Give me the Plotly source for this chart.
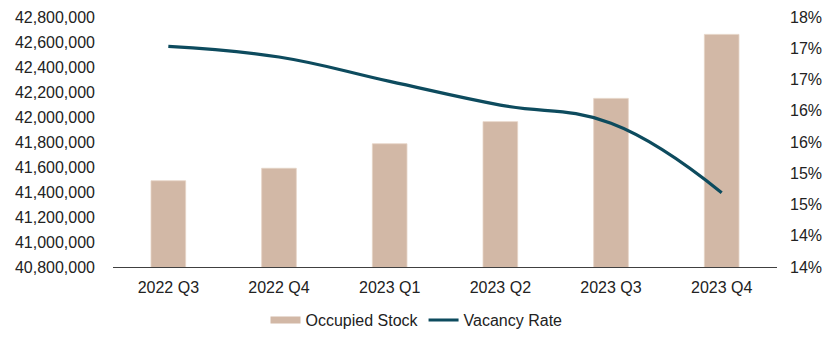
import plotly.graph_objects as go

# Quarterly office market figures
quarters = ["2022 Q3", "2022 Q4", "2023 Q1", "2023 Q2", "2023 Q3", "2023 Q4"]
occupied_stock = [41490000, 41590000, 41786000, 41963000, 42149000, 42661000]
vacancy_rate = [0.1753, 0.1736, 0.1697, 0.1659, 0.1630, 0.1519]

# Right-axis ticks every 0.5 pt, shown as whole percentages
rate_tickvals = [0.14, 0.145, 0.15, 0.155, 0.16, 0.165, 0.17, 0.175, 0.18]
rate_ticktext = ["14%", "14%", "15%", "15%", "16%", "16%", "17%", "17%", "18%"]

BAR_COLOR = "#D2B8A6"
LINE_COLOR = "#0D4B5E"
TEXT_COLOR = "#222222"
FONT = "Liberation Sans, Arial, sans-serif"

fig = go.Figure()
fig.add_trace(go.Bar(
    x=quarters, y=occupied_stock, name="Occupied Stock",
    marker=dict(color=BAR_COLOR, line=dict(width=0.8, color="#E6D4C7")),
    yaxis="y", showlegend=False,
))
# Wide flat swatch for the bar series in the legend
fig.add_trace(go.Scatter(
    x=[None], y=[None], name="Occupied Stock", mode="lines",
    line=dict(color=BAR_COLOR, width=7), yaxis="y",
))
fig.add_trace(go.Scatter(
    x=quarters, y=vacancy_rate, name="Vacancy Rate",
    mode="lines", line=dict(color=LINE_COLOR, width=3.2, shape="spline", smoothing=1.2),
    yaxis="y2",
))

fig.update_layout(
    width=833, height=342,
    margin=dict(l=113, r=56, t=17, b=75, autoexpand=False),
    paper_bgcolor="white", plot_bgcolor="white",
    font=dict(family=FONT, size=16, color=TEXT_COLOR),
    bargap=0.687,
    showlegend=True,
    legend=dict(
        orientation="h", xref="container", yref="container",
        x=0.5, xanchor="center", y=0.064, yanchor="middle",
        font=dict(size=16, color=TEXT_COLOR),
        itemwidth=30, tracegroupgap=0,
    ),
    xaxis=dict(
        showgrid=False, showline=True, linecolor="#404040", linewidth=1.3,
        ticks="", tickfont=dict(size=16), zeroline=False,
        ticklabelstandoff=6, automargin=False,
    ),
    yaxis=dict(
        range=[40800000, 42800000], dtick=200000, tickformat=",",
        showgrid=False, showline=False, zeroline=False, ticks="",
        tickfont=dict(size=16), ticklabelstandoff=17, automargin=False,
    ),
    yaxis2=dict(
        range=[0.14, 0.18], overlaying="y", side="right",
        tickvals=rate_tickvals, ticktext=rate_ticktext,
        showgrid=False, showline=False, zeroline=False, ticks="",
        tickfont=dict(size=16), ticklabelstandoff=12, automargin=False,
    ),
)

fig.write_html("out.html")
